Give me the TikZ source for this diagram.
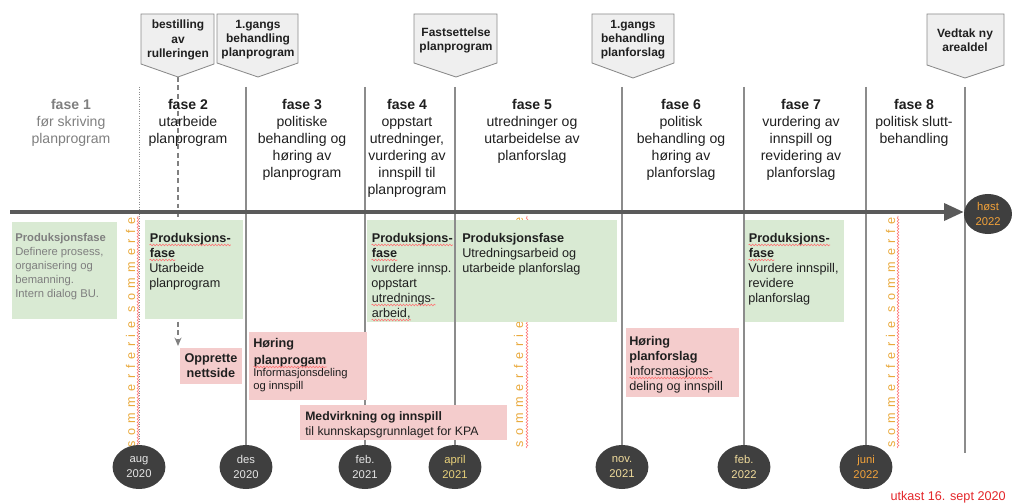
\documentclass[tikz,border=0pt]{standalone}
\usepackage{fontspec}
\setmainfont{Liberation Sans}
\newfontfamily\spaced[LetterSpace=44]{Liberation Sans}
\usepackage{tikz}
\usetikzlibrary{arrows.meta,shapes.geometric,decorations.pathmorphing}

\definecolor{gronn}{HTML}{D9EAD3}
\definecolor{rosa}{HTML}{F4CCCC}
\definecolor{linje}{HTML}{8C8C8C}
\definecolor{pilgraa}{HTML}{5A5A5A}
\definecolor{merke}{HTML}{3F3F3F}
\definecolor{ferieoransje}{HTML}{E9A93B}
\definecolor{tekst}{HTML}{1F1F1F}
\definecolor{graatekst}{HTML}{7F7F7F}
\definecolor{skiltgraa}{HTML}{EFEFEF}
\definecolor{skiltkant}{HTML}{8A8A8A}
\definecolor{hvit}{HTML}{E6E6E6}
\definecolor{gul}{HTML}{E8D17A}
\definecolor{lysgul}{HTML}{F1DC9C}
\definecolor{oransje}{HTML}{F2A23A}
\definecolor{utkastrod}{HTML}{E3262A}

% stavekontroll-krusing under et ord
\newcommand\krusord[1]{\tikz[baseline=(ord.base)]{\node[inner sep=0pt,anchor=base] (ord) {#1};
  \draw[krus] ([yshift=-1.8pt]ord.base west) -- ([yshift=-1.8pt]ord.base east);}}

\begin{document}
\begin{tikzpicture}[x=0.025cm,y=-0.025cm,
    vline/.style={linje,line width=0.8pt},
    fase/.style={anchor=north,align=center,inner sep=0pt,text=tekst,
      font=\fontsize{10}{12.1}\selectfont},
    skilt/.style={fill=skiltgraa,draw=skiltkant,line width=0.6pt},
    skilttekst/.style={align=center,inner sep=0pt,text=tekst,
      font=\fontsize{8.5}{10}\selectfont\bfseries},
    boks/.style={anchor=north west,align=left,inner sep=0pt,text=tekst,
      font=\fontsize{9}{10.67}\selectfont},
    dato/.style={ellipse,fill=merke,minimum width=1.32cm,minimum height=1.1cm,
      inner sep=0pt,align=center,font=\fontsize{8}{10}\selectfont},
    ferie/.style={rotate=90,anchor=base west,inner sep=0pt,text=ferieoransje,
      font=\fontsize{9}{9}\spaced},
    krus/.style={red!55,line width=0.4pt,decorate,
      decoration={snake,amplitude=0.6pt,segment length=2.2pt}},
    stipl/.style={gray,line width=1pt,dash pattern=on 3.5pt off 2.5pt,
      -{Stealth[length=6pt,width=5pt]}}]
  \useasboundingbox (0,0) rectangle (1012,504);

  % stiplet pil fra bestilling
  \coordinate (s1) at (178,77);
  \coordinate (nettpil) at (178,346);
  \draw[stipl] (s1) -- (nettpil);

  % sommerferie
  \begin{scope}
    \clip (0,216) rectangle (1012,452);
    \node[ferie] (ferie1) at (135,448) {sommerferie sommerferie};
    \node[ferie] (ferie2) at (523,448) {sommerferie sommerferie};
    \node[ferie] (ferie3) at (895,448) {sommerferie sommerferie};
    \draw[krus] (138,448) -- (138,216);
    \draw[krus] (527,448) -- (527,216);
    \draw[krus] (898,448) -- (898,216);
  \end{scope}

  % produksjonsfaser
  \fill[gronn] (12,222) rectangle (117,319);
  \fill[gronn] (145,220) rectangle (243,319);
  \fill[gronn] (367,220) rectangle (617,322);
  \fill[gronn] (744,220) rectangle (844,322);
  \node[boks,text=graatekst,font=\fontsize{8}{9.96}\selectfont] (prod1) at (15,233)
    {\textbf{Produksjonsfase}\\Definere prosess,\\organisering og\\bemanning.\\Intern dialog BU.};
  \node[boks] (prod2) at (149,233)
    {\textbf{\krusord{Produksjons-}}\\\textbf{\krusord{fase}}\\Utarbeide\\planprogram};
  \node[boks] (prod4) at (371,233)
    {\textbf{\krusord{Produksjons-}}\\\textbf{\krusord{fase}}\\vurdere innsp.\\oppstart\\\krusord{utrednings-}\\\krusord{arbeid,}};
  \node[boks] (prod5) at (462,233)
    {\textbf{Produksjonsfase}\\Utredningsarbeid og\\utarbeide planforslag};
  \node[boks] (prod7) at (748,233)
    {\textbf{\krusord{Produksjons-}}\\\textbf{\krusord{fase}}\\Vurdere innspill,\\revidere\\planforslag};

  % skillelinjer og datoer
  \coordinate (t1) at (139,87);
  \coordinate (t2) at (246,87);
  \coordinate (t3) at (365,87);
  \coordinate (t4) at (455,87);
  \coordinate (t5) at (622,87);
  \coordinate (t6) at (744,87);
  \coordinate (t7) at (866,87);
  \coordinate (t8) at (965,87);
  \coordinate (b8) at (965,453);
  \node[dato,text=hvit] (aug) at (139,467) {aug\\2020};
  \node[dato,text=hvit] (des) at (246,467) {des\\2020};
  \node[dato,text=hvit] (feb1) at (365,467) {feb.\\2021};
  \node[dato,text=gul] (april) at (455,467) {april\\2021};
  \node[dato,text=lysgul] (nov) at (622,467) {nov.\\2021};
  \node[dato,text=lysgul] (feb2) at (744,467) {feb.\\2022};
  \node[dato,text=oransje] (juni) at (866,467) {juni\\2022};
  \draw[linje,line width=0.7pt,densely dotted] (t1) -- (aug);
  \draw[vline] (t2) -- (des);
  \draw[vline] (t3) -- (feb1);
  \draw[vline] (t4) -- (april);
  \draw[vline] (t5) -- (nov);
  \draw[vline] (t6) -- (feb2);
  \draw[vline] (t7) -- (juni);
  \draw[vline] (t8) -- (b8);

  % tidslinje
  \coordinate (start) at (10,212);
  \node[dato,minimum width=1.2cm,minimum height=1cm,text=oransje] (host) at (988,214) {høst\\2022};
  \draw[pilgraa,line width=2.8pt,-{Triangle[length=14pt,width=12pt]}] (start) -- (start -| host.west);

  % høring og medvirkning
  \node[fill=rosa,minimum width=1.55cm,minimum height=0.875cm,align=center,
    inner sep=0pt,text=tekst,font=\fontsize{9}{10.67}\selectfont\bfseries] (nett) at (211,366) {Opprette\\nettside};
  \fill[rosa] (249,332) rectangle (367,400);
  \node[boks,font=\fontsize{9}{12.1}\selectfont\bfseries] (hplan) at (253,338) {Høring\\\krusord{planprogam}};
  \node[boks,font=\fontsize{8}{9.6}\selectfont] (hplantekst) at (253,368)
    {Informasjonsdeling\\og innspill};
  \fill[rosa] (300,405) rectangle (507,440);
  \node[boks,font=\fontsize{8.7}{10.67}\selectfont] (medv) at (305,411)
    {\textbf{Medvirkning og innspill}\\til kunnskapsgrunnlaget for KPA};
  \fill[rosa] (626,328) rectangle (739,397);
  \node[boks] (hforslag) at (629,336)
    {\textbf{Høring}\\\textbf{planforslag}\\\krusord{Inforsmasjons-}\\deling og innspill};

  % vedtakspunkter
  \draw[skilt] (141,14) -- (214,14) -- (214,64) -- (s1) -- (141,64) -- cycle;
  \node[skilttekst] (bestilling) at (178,40) {bestilling\\av\\rulleringen};
  \draw[skilt] (217,14) -- (298,14) -- (298,63) -- (258,77) -- (217,63) -- cycle;
  \node[skilttekst] (gangs1) at (258,40) {1.gangs\\behandling\\planprogram};
  \draw[skilt] (414,14) -- (497,14) -- (497,63) -- (456,77) -- (414,63) -- cycle;
  \node[skilttekst] (fastsett) at (456,40) {Fastsettelse\\planprogram};
  \draw[skilt] (592,14) -- (674,14) -- (674,63) -- (633,78) -- (592,63) -- cycle;
  \node[skilttekst] (gangs2) at (633,40) {1.gangs\\behandling\\planforslag};
  \draw[skilt] (927,14) -- (1004,14) -- (1004,65) -- (965,78) -- (927,65) -- cycle;
  \node[skilttekst] (vedtak) at (965,40) {Vedtak ny\\arealdel};

  % faser
  \node[fase,text=graatekst] (fase1) at (71,99) {\textbf{fase 1}\\før skriving\\planprogram};
  \node[fase] (fase2) at (188,99) {\textbf{fase 2}\\utarbeide\\planprogram};
  \node[fase] (fase3) at (302,99) {\textbf{fase 3}\\politiske\\behandling og\\høring av\\planprogram};
  \node[fase] (fase4) at (407,99) {\textbf{fase 4}\\oppstart\\utredninger,\\vurdering av\\innspill til\\planprogram};
  \node[fase] (fase5) at (532,99) {\textbf{fase 5}\\utredninger og\\utarbeidelse av\\planforslag};
  \node[fase] (fase6) at (681,99) {\textbf{fase 6}\\politisk\\behandling og\\høring av\\planforslag};
  \node[fase] (fase7) at (801,99) {\textbf{fase 7}\\vurdering av\\innspill og\\revidering av\\planforslag};
  \node[fase] (fase8) at (914,99) {\textbf{fase 8}\\politisk slutt-\\behandling};

  \node[anchor=east,inner sep=0pt,text=utkastrod,font=\fontsize{9}{10}\selectfont] (utkast) at (1006,497) {utkast 16. sept 2020};
\end{tikzpicture}
\end{document}
